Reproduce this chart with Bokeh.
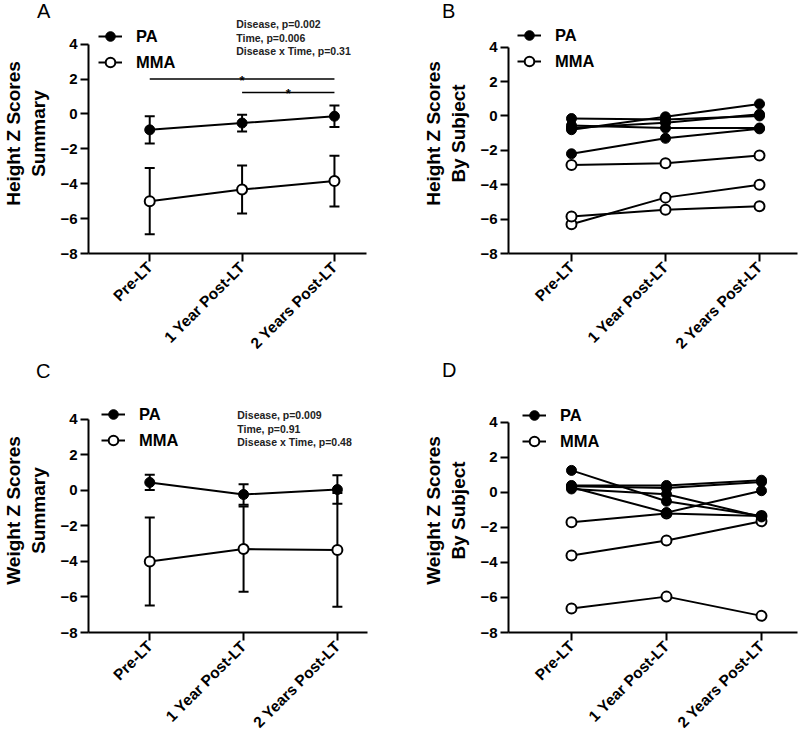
import math
from bokeh.plotting import figure
from bokeh.models import (ColumnDataSource, Whisker, TeeHead, Legend, LegendItem,
                          Label, FixedTicker, Range1d, Div)
from bokeh.layouts import row, column
from bokeh.embed import file_html
from bokeh.resources import INLINE

# ---------------- data ----------------
time_labels = ["Pre-LT", "1 Year Post-LT", "2 Years Post-LT"]
time_pos = [0, 1, 2]
y_ticks = [-8, -6, -4, -2, 0, 2, 4]

height_pa_mean = [-0.91, -0.52, -0.13]
height_pa_sd = [0.78, 0.48, 0.62]
height_mma_mean = [-5.0, -4.33, -3.85]
height_mma_sd = [1.9, 1.38, 1.45]

weight_pa_mean = [0.45, -0.23, 0.05]
weight_pa_sd = [0.43, 0.58, 0.8]
weight_mma_mean = [-4.0, -3.3, -3.35]
weight_mma_sd = [2.48, 2.4, 3.2]

height_pa_subjects = [
    [-0.15, -0.2, 0.0],
    [-0.8, -0.05, 0.7],
    [-0.55, -0.7, -0.7],
    [-0.7, -0.4, 0.1],
    [-2.2, -1.3, -0.75],
]
height_mma_subjects = [
    [-2.85, -2.75, -2.3],
    [-6.3, -4.75, -4.0],
    [-5.85, -5.45, -5.25],
]
weight_pa_subjects = [
    [1.26, -0.5, -1.35],
    [0.3, -1.15, 0.1],
    [0.4, 0.4, 0.7],
    [0.35, 0.25, 0.6],
    [0.2, -0.1, -1.4],
]
weight_mma_subjects = [
    [-1.7, -1.2, -1.35],
    [-3.6, -2.74, -1.65],
    [-6.63, -5.95, -7.05],
]

height_stats = ["Disease, p=0.002", "Time, p=0.006", "Disease x Time, p=0.31"]
weight_stats = ["Disease, p=0.009", "Time, p=0.91", "Disease x Time, p=0.48"]
height_sig_pairs = [(0, 2, 2.0), (1, 2, 1.23)]
panel_letters = ["A", "B", "C", "D"]

FONT = "Liberation Sans"


def base_fig(w, h, xr, yr, borders, ylabel):
    bl, br, bt, bb = borders
    p = figure(width=w, height=h, x_range=Range1d(*xr), y_range=Range1d(*yr),
               output_backend="svg", toolbar_location=None,
               min_border_left=bl, min_border_right=br,
               min_border_top=bt, min_border_bottom=bb)
    p.outline_line_color = None
    p.grid.visible = False
    p.background_fill_color = "white"
    p.border_fill_color = "white"
    ya = p.yaxis[0]
    ya.ticker = FixedTicker(ticks=y_ticks)
    ya.bounds = (-8, 4)
    ya.axis_label = ylabel
    ya.axis_label_text_font = FONT
    ya.axis_label_text_font_size = "19px"
    ya.axis_label_text_font_style = "bold"
    ya.axis_label_text_color = "black"
    ya.axis_label_standoff = 8
    ya.major_label_text_font = FONT
    ya.major_label_text_font_size = "15px"
    ya.major_label_text_font_style = "bold"
    ya.major_label_text_color = "black"
    ya.major_label_standoff = 3
    ya.axis_line_width = 2
    ya.major_tick_line_width = 2
    ya.major_tick_out = 8
    ya.major_tick_in = 0
    ya.minor_tick_line_color = None
    xa = p.xaxis[0]
    xa.ticker = FixedTicker(ticks=time_pos)
    xa.major_label_overrides = {i: t for i, t in zip(time_pos, time_labels)}
    xa.major_label_orientation = math.pi / 4
    xa.major_label_text_font = FONT
    xa.major_label_text_font_size = "15.5px"
    xa.major_label_text_font_style = "bold"
    xa.major_label_text_color = "black"
    xa.major_label_standoff = 3
    xa.axis_line_width = 2
    xa.major_tick_line_width = 2
    xa.major_tick_out = 8
    xa.major_tick_in = 0
    xa.minor_tick_line_color = None
    return p


def add_legend(p, pa_r, mma_r, pad):
    leg = Legend(items=[LegendItem(label="PA", renderers=pa_r),
                        LegendItem(label="MMA", renderers=mma_r)],
                 location="top_left", border_line_color=None,
                 background_fill_alpha=0, label_text_font=FONT,
                 label_text_font_size="16.5px", label_text_font_style="bold",
                 label_text_color="black",
                 glyph_width=24, glyph_height=26, label_height=26,
                 spacing=0, padding=0, margin=pad, label_standoff=14)
    p.add_layout(leg)


def stats(p, x, ys, lines):
    for yy, t in zip(ys, lines):
        p.add_layout(Label(x=x, y=yy, text=t, text_font=FONT, text_font_size="10.5px",
                           text_font_style="bold", text_align="left",
                           text_baseline="middle", text_color="#222222"))


def summary(p, pa_m, pa_sd, mma_m, mma_sd):
    for m, sd in ((mma_m, mma_sd), (pa_m, pa_sd)):
        src = ColumnDataSource(dict(x=time_pos,
                                    upper=[a + b for a, b in zip(m, sd)],
                                    lower=[a - b for a, b in zip(m, sd)]))
        p.add_layout(Whisker(source=src, base="x", upper="upper", lower="lower",
                             line_width=2, line_color="black",
                             upper_head=TeeHead(size=10, line_width=2, line_color="black"),
                             lower_head=TeeHead(size=10, line_width=2, line_color="black")))
    l2 = p.line(time_pos, mma_m, line_width=2, color="black")
    s2 = p.scatter(time_pos, mma_m, size=10, fill_color="white", line_color="black", line_width=2)
    l1 = p.line(time_pos, pa_m, line_width=2, color="black")
    s1 = p.scatter(time_pos, pa_m, size=10, fill_color="black", line_color="black", line_width=1)
    return [l1, s1], [l2, s2]


def subjects(p, pa_list, mma_list):
    mr = None
    for ys in mma_list:
        l = p.line(time_pos, ys, line_width=2, color="black")
        s = p.scatter(time_pos, ys, size=10, fill_color="white", line_color="black", line_width=2)
        if mr is None:
            mr = [l, s]
    pr = None
    for ys in pa_list:
        l = p.line(time_pos, ys, line_width=2, color="black")
        s = p.scatter(time_pos, ys, size=10, fill_color="black", line_color="black", line_width=1)
        if pr is None:
            pr = [l, s]
    return pr, mr


# ---------- Panel A ----------
pA = base_fig(400, 368, (-0.663, 2.347), (-8, 5.76), (80, 34, 11, 115),
              "Height Z Scores\nSummary")
pr, mr = summary(pA, height_pa_mean, height_pa_sd, height_mma_mean, height_mma_sd)
add_legend(pA, pr, mr, 10)
stats(pA, 0.937, [5.14, 4.34, 3.60], height_stats)
for a, b, yv in height_sig_pairs:
    pA.line([a, b], [yv, yv], line_width=1.5, color="black")
    pA.add_layout(Label(x=(a + b) / 2, y=yv - 0.08, text="*", text_font=FONT,
                        text_font_size="13px", text_font_style="bold", text_align="center",
                        text_baseline="alphabetic", text_color="black"))

# ---------- Panel B ----------
pB = base_fig(400, 368, (-0.670, 2.404), (-8, 5.96), (108, 3, 13, 113),
              "Height Z Scores\nBy Subject")
pr, mr = subjects(pB, height_pa_subjects, height_mma_subjects)
add_legend(pB, pr, mr, 9)

# ---------- Panel C ----------
pC = base_fig(400, 376, (-0.653, 2.321), (-8, 5.74), (80, 33, 19, 112),
              "Weight Z Scores\nSummary")
pr, mr = summary(pC, weight_pa_mean, weight_pa_sd, weight_mma_mean, weight_mma_sd)
add_legend(pC, pr, mr, 13)
stats(pC, 0.933, [4.22, 3.47, 2.71], weight_stats)

# ---------- Panel D ----------
pD = base_fig(400, 376, (-0.663, 2.379), (-8, 5.94), (108, 3, 20, 112),
              "Weight Z Scores\nBy Subject")
pr, mr = subjects(pD, weight_pa_subjects, weight_mma_subjects)
add_legend(pD, pr, mr, 14)

# panel letters, overlaid as absolutely positioned text
letter_pos = [(32, 0), (437, 0), (31, 360), (437, 359)]
letter_divs = [
    Div(text=t, width=20, height=12,
        styles={"position": "absolute", "left": f"{lx}px", "top": f"{ly}px",
                "font-family": FONT, "font-size": "20px", "color": "black",
                "z-index": "10", "line-height": "12px", "overflow": "visible"})
    for t, (lx, ly) in zip(panel_letters, letter_pos)
]

layout = column(*letter_divs, row(pA, pB), row(pC, pD),
                styles={"position": "relative"})

open("out.html", "w").write(file_html(layout, INLINE))
